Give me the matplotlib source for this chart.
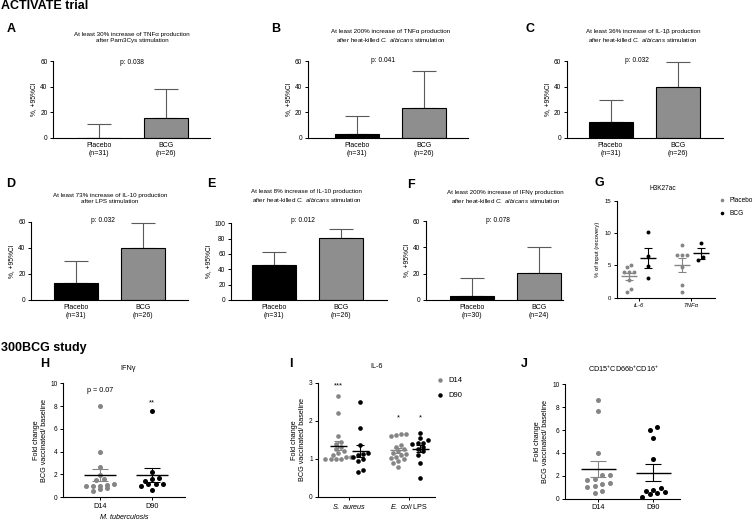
import numpy as np
import matplotlib
matplotlib.use("Agg")
import matplotlib.pyplot as plt
from matplotlib.lines import Line2D

plt.rcParams["font.family"] = "Liberation Sans"
plt.rcParams["mathtext.fontset"] = "custom"
plt.rcParams["mathtext.rm"] = "Liberation Sans"
plt.rcParams["mathtext.it"] = "Liberation Sans:italic"
plt.rcParams["axes.linewidth"] = 0.8

W, H = 756, 521
GREY_BAR = "#8e8e8e"
GREY_DOT = "#858585"

# ---------------- data: ACTIVATE trial bar panels (A-F) ----------------
groups = ["Placebo", "BCG"]
CALB = "$\\it{C.}$ $\\it{albicans}$"
bar_titles = [
    "At least 30% increase of TNFα production\nafter Pam3Cys stimulation",
    "At least 200% increase of TNFα production\nafter heat-killed " + CALB + " stimulation",
    "At least 36% increase of IL-1β production\nafter heat-killed " + CALB + " stimulation",
    "At least 73% increase of IL-10 production\nafter LPS stimulation",
    "At least 8% increase of IL-10 production\nafter heat-killed " + CALB + " stimulation",
    "At least 200% increase of IFNγ production\nafter heat-killed " + CALB + " stimulation",
]
bar_n = [(31, 26), (31, 26), (31, 26), (31, 26), (31, 26), (30, 24)]
bar_vals = [(0, 15.3), (2.9, 23.0), (12.8, 39.8), (12.8, 39.8), (45.0, 81.0), (3.0, 20.6)]
bar_ci = [(10.8, 38.5), (16.9, 52.0), (29.6, 59.3), (29.6, 59.3), (63.0, 93.0), (16.8, 40.5)]
p_vals = ["0.038", "0.041", "0.032", "0.032", "0.012", "0.078"]
bar_ymax = [60, 60, 60, 60, 100, 60]

# ---------------- data: G H3K27ac ----------------
g_genes = ["IL-6", "TNFα"]
g_placebo = [[5.0, 4.8, 4.0, 4.0, 4.0, 2.7, 1.3, 0.9],
             [8.1, 6.6, 6.6, 6.6, 4.7, 2.0, 0.9]]
g_bcg = [[10.2, 6.4, 4.9, 3.0],
         [8.5, 6.3, 5.8]]

# ---------------- data: 300BCG study (H-J) ----------------
h_d14 = [8.0, 4.0, 2.6, 1.95, 1.55, 1.5, 1.1, 1.05, 1.0, 0.95, 0.95, 0.75, 0.7, 0.5]
h_d90 = [7.6, 2.2, 1.65, 1.6, 1.4, 1.15, 1.1, 1.1, 1.0, 0.65]

i_stims = ["$\\it{S.}$ $\\it{aureus}$", "$\\it{E.}$ $\\it{coli}$ LPS"]
i_d14 = [[2.65, 2.2, 1.6, 1.45, 1.4, 1.3, 1.25, 1.2, 1.15, 1.1, 1.05, 1.05, 1.0, 1.0, 1.0, 0.98],
         [1.65, 1.65, 1.62, 1.6, 1.35, 1.3, 1.25, 1.2, 1.15, 1.12, 1.1, 1.05, 1.02, 1.0, 0.95, 0.9, 0.78]]
i_d90 = [[2.48, 1.8, 1.35, 1.15, 1.12, 1.1, 1.05, 1.0, 0.93, 0.7, 0.65],
         [1.68, 1.55, 1.5, 1.42, 1.42, 1.4, 1.3, 1.25, 1.2, 1.1, 0.9, 0.5]]

j_d14 = [8.65, 7.7, 4.0, 2.05, 2.05, 1.7, 1.65, 1.35, 1.25, 1.1, 1.0, 0.65, 0.5]
j_d90 = [6.25, 6.0, 5.3, 3.45, 0.9, 0.75, 0.65, 0.6, 0.5, 0.45, 0.15]


fig = plt.figure(figsize=(W / 100, H / 100), dpi=100)


def add_ax(l, t, r, b):
    # pixel box -> figure fraction
    ax = fig.add_axes([l / W, 1 - b / H, (r - l) / W, (b - t) / H])
    ax.spines["top"].set_visible(False)
    ax.spines["right"].set_visible(False)
    ax.tick_params(direction="out", length=2.5, width=0.7, labelsize=4.7, pad=1.5)
    return ax


def ftext(x, y, s, **kw):
    fig.text(x / W, 1 - y / H, s, **kw)


def swarm(vals, step, tol):
    rows = []
    for v in sorted(vals):
        if rows and v - rows[-1][0] < tol:
            rows[-1].append(v)
        else:
            rows.append([v])
    xs, ys = [], []
    for r in rows:
        off = (np.arange(len(r)) - (len(r) - 1) / 2) * step
        xs += list(off)
        ys += r
    return np.array(xs), np.array(ys)


def mean_sem(ax, x, vals, half, cap, mcol, ecol):
    m = np.mean(vals)
    se = np.std(vals, ddof=1) / np.sqrt(len(vals))
    ax.vlines(x, m - se, m + se, color=ecol, lw=0.8, zorder=4)
    ax.hlines([m - se, m + se], x - cap, x + cap, color=ecol, lw=0.8, zorder=4)
    ax.hlines(m, x - half, x + half, color=mcol, lw=1.0, zorder=5)


# ---------------- bar panels ----------------
bar_boxes = [(53, 61, 210, 138), (307.7, 61, 468, 138), (566.7, 61, 722.7, 138),
             (31, 221.7, 187.7, 300), (231, 223.3, 386.7, 300), (425.7, 221, 563, 300)]
bar_px = [(99, 166), (357, 424), (610.5, 677.8), (75.8, 142.8), (274, 340.8), (472, 539)]
title_pos = [(132, 37.5), (391, 36.2), (643, 36.3), (110, 198.3), (306.7, 196.7), (505.5, 197.8)]
p_pos = [(132, 62), (383, 60), (637, 60), (102.7, 221), (303, 220), (498, 221)]

for k in range(6):
    l, t, r, b = bar_boxes[k]
    c0, c1 = bar_px[k]
    s = c1 - c0
    ax = add_ax(l, t, r, b)
    x = np.arange(2)
    vals = np.array(bar_vals[k])
    ci = np.array(bar_ci[k])
    ax.errorbar(x, vals, yerr=[np.zeros(2), ci - vals], fmt="none", ecolor="#5a5a5a",
                elinewidth=0.8, capsize=8.5, capthick=0.8, zorder=1)
    ax.bar(x, vals, width=44 / s, color=["black", GREY_BAR], edgecolor="black",
           linewidth=0.8, zorder=2)
    ax.set_xlim((l - c0) / s, (r - c0) / s)
    ax.set_ylim(0, bar_ymax[k])
    ax.set_yticks(np.arange(0, bar_ymax[k] + 1, 20))
    ax.set_xticks(x)
    ax.set_xticklabels([f"{g}\n(n={n})" for g, n in zip(groups, bar_n[k])], fontsize=5)
    ax.tick_params(axis="x", length=0, pad=3)
    ax.set_ylabel("%, +95%CI", fontsize=4.8, labelpad=2)
    ftext(*title_pos[k], bar_titles[k], ha="center", va="center", fontsize=4.5, linespacing=1.3)
    ftext(*p_pos[k], "p: " + p_vals[k], ha="center", va="center", fontsize=4.8)

# ---------------- G ----------------
axg = add_ax(616.7, 201, 715, 297.7)
gs = 52.7
for i in range(2):
    for vals, col, sh in [(g_placebo[i], GREY_DOT, -9.5), (g_bcg[i], "black", 9.5)]:
        xo, yo = swarm(vals, 4.8 / gs, 0.6)
        axg.scatter(i + sh / gs + xo, yo, s=8, color=col, linewidths=0, zorder=3)
        mean_sem(axg, i + sh / gs, vals, 8 / gs, 4 / gs, col, col)
axg.set_xlim(-21.8 / gs, 76.5 / gs)
axg.set_ylim(0, 15)
axg.set_yticks([0, 5, 10, 15])
axg.set_xticks([0, 1])
axg.set_xticklabels(g_genes, style="italic", fontsize=4.3)
axg.tick_params(labelsize=4.3)
axg.set_ylabel("% of input (recovery)", fontsize=4.3, labelpad=3)
ftext(662.7, 188.3, "H3K27ac", ha="center", va="center", fontsize=4.7)
axg.legend(handles=[Line2D([], [], ls="", marker="o", ms=2.6, mfc=GREY_DOT, mec="none"),
                    Line2D([], [], ls="", marker="o", ms=2.6, mfc="black", mec="none")],
           labels=groups, loc="upper left", bbox_to_anchor=(718 / W, 1 - 197 / H),
           bbox_transform=fig.transFigure, frameon=False, fontsize=4.7,
           handlelength=1.2, handletextpad=0.5, labelspacing=0.9, borderpad=0, borderaxespad=0)

# ---------------- H ----------------
axh = add_ax(63.3, 383.3, 185, 497)
hs = 52
for i, (vals, col) in enumerate([(h_d14, GREY_DOT), (h_d90, "black")]):
    xo, yo = swarm(vals, 7.2 / hs, 0.35)
    axh.scatter(i + xo, yo, s=13, color=col, linewidths=0, zorder=3)
    mean_sem(axh, i, vals, 16 / hs, 8.3 / hs, "black", col)
axh.set_xlim(-36.7 / hs, 85 / hs)
axh.set_ylim(0, 10)
axh.set_yticks(np.arange(0, 11, 2))
axh.set_xticks([0, 1])
axh.set_xticklabels(["D14", "D90"], fontsize=5.2)
axh.set_ylabel("Fold change\nBCG vaccinated/ baseline", fontsize=5.2, labelpad=2)
axh.set_xlabel("M. tuberculosis", style="italic", fontsize=5.2, labelpad=3)
axh.text(0, 9.4, "p = 0.07", ha="center", va="center", fontsize=5.2)
axh.text(1, 8.3, "**", ha="center", va="center", fontsize=5.5)
ftext(127.7, 368.3, "IFNγ", ha="center", va="center", fontsize=5.2)

# ---------------- I ----------------
axi = add_ax(318.3, 382.7, 435, 496.7)
is_ = 60
for i in range(2):
    for vals, col, sh in [(i_d14[i], GREY_DOT, -11), (i_d90[i], "black", 11)]:
        xo, yo = swarm(vals, 5.2 / is_, 0.12)
        axi.scatter(i + sh / is_ + xo, yo, s=11, color=col, linewidths=0, zorder=3)
        mean_sem(axi, i + sh / is_, vals, 8.5 / is_, 4 / is_, "black" if i == 0 else col, col)
axi.set_xlim(-31 / is_, 85.7 / is_)
axi.set_ylim(0, 3)
axi.set_yticks([0, 1, 2, 3])
axi.set_xticks([0, 1])
axi.set_xticklabels(i_stims, fontsize=5.2)
axi.set_ylabel("Fold change\nBCG vaccinated/ baseline", fontsize=5.2, labelpad=2)
axi.text(-11 / is_, 2.92, "***", ha="center", va="center", fontsize=5.5)
axi.text(1 - 11 / is_, 2.08, "*", ha="center", va="center", fontsize=5.5)
axi.text(1 + 11 / is_, 2.08, "*", ha="center", va="center", fontsize=5.5)
ftext(376.7, 366, "IL-6", ha="center", va="center", fontsize=5.2)
axi.legend(handles=[Line2D([], [], ls="", marker="o", ms=3.2, mfc=GREY_DOT, mec="none"),
                    Line2D([], [], ls="", marker="o", ms=3.2, mfc="black", mec="none")],
           labels=["D14", "D90"], loc="upper left", bbox_to_anchor=(435 / W, 1 - 377 / H),
           bbox_transform=fig.transFigure, frameon=False, fontsize=5.5,
           handlelength=1.2, handletextpad=0.5, labelspacing=1.0, borderpad=0, borderaxespad=0)

# ---------------- J ----------------
axj = add_ax(565, 384.3, 680, 498.7)
js = 55
for i, (vals, col) in enumerate([(j_d14, GREY_DOT), (j_d90, "black")]):
    xo, yo = swarm(vals, 7.5 / js, 0.45)
    axj.scatter(i + xo, yo, s=13, color=col, linewidths=0, zorder=3)
    mean_sem(axj, i, vals, 17.5 / js, 8 / js, "black", col)
axj.set_xlim(-33.3 / js, 81.7 / js)
axj.set_ylim(0, 10)
axj.set_yticks(np.arange(0, 11, 2))
axj.set_xticks([0, 1])
axj.set_xticklabels(["D14", "D90"], fontsize=5.2)
axj.set_ylabel("Fold change\nBCG vaccinated/ baseline", fontsize=5.2, labelpad=2)
ftext(623.3, 369.3, "CD15$^{+}$CD66b$^{+}$CD16$^{+}$", ha="center", va="center", fontsize=5.2)

# ---------------- headers and panel letters ----------------
ftext(1, 6, "ACTIVATE trial", ha="left", va="center", fontsize=9, fontweight="bold")
ftext(1, 348, "300BCG study", ha="left", va="center", fontsize=9, fontweight="bold")
letters = {"A": (11.5, 29), "B": (276, 29), "C": (530.5, 29), "D": (10.5, 184),
           "E": (211.7, 184), "F": (411, 184.5), "G": (599, 183), "H": (44.3, 364),
           "I": (290.5, 364), "J": (524, 364)}
for lt, (x, y) in letters.items():
    ftext(x, y, lt, ha="center", va="center", fontsize=9, fontweight="bold")

fig.savefig("out.png", dpi=100)
